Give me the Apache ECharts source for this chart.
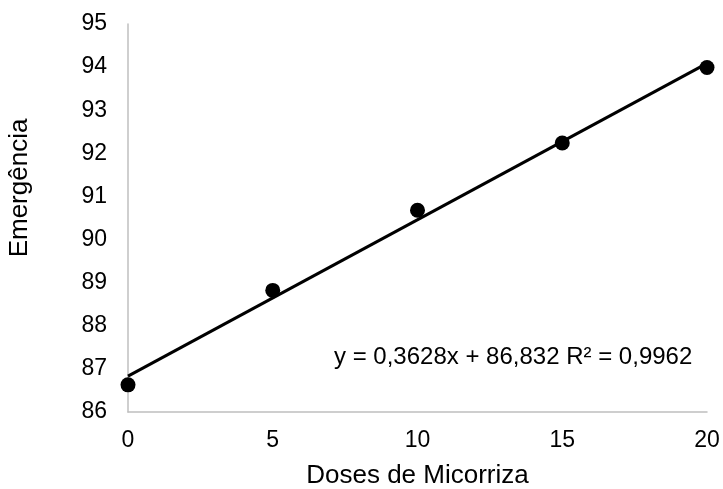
<!DOCTYPE html>
<html>
<head>
<meta charset="utf-8">
<script src="https://cdn.jsdelivr.net/npm/echarts@6/dist/echarts.min.js"></script>
<style>
  html, body { margin: 0; padding: 0; background: #fff; }
  #main { width: 723px; height: 489px; }
</style>
</head>
<body>
<div id="main"></div>
<script>
// doses and emergence readings
const doses = [0, 5, 10, 15, 20];
const emergencia = [86.63, 88.82, 90.68, 92.24, 93.99];
// linear trend y = 0,3628x + 86,832 at the ends of the range
const trendX = [0, 20];
const trendY = [86.832, 94.088];
const equationText = 'y = 0,3628x + 86,832 R² = 0,9962';
const xTitle = 'Doses de Micorriza';
const yTitle = 'Emergência';

const chart = echarts.init(document.getElementById('main'), null, { renderer: 'canvas' });

const font = 'Arial, "Liberation Sans", sans-serif';
const axisColor = '#bfbfbf';

const options = {
  animation: false,
  grid: { left: 128, right: 16, top: 24, bottom: 77, outerBoundsMode: 'none', containLabel: false },
  xAxis: {
    type: 'value',
    min: 0,
    max: 20,
    interval: 5,
    name: xTitle,
    nameLocation: 'middle',
    nameGap: 51,
    nameTextStyle: { color: '#000', fontSize: 26, fontFamily: font },
    axisLine: { show: true, lineStyle: { color: axisColor, width: 1.5 } },
    axisTick: { show: false },
    splitLine: { show: false },
    axisLabel: { color: '#000', fontSize: 23, fontFamily: font, margin: 17 }
  },
  yAxis: {
    type: 'value',
    min: 86,
    max: 95,
    interval: 1,
    axisLine: { show: true, lineStyle: { color: axisColor, width: 1.5 } },
    axisTick: { show: false },
    splitLine: { show: false },
    axisLabel: { color: '#000', fontSize: 23, fontFamily: font, margin: 21 }
  },
  graphic: [
    {
      type: 'text',
      left: 334,
      top: 345,
      style: { text: equationText, fill: '#000', font: '24px ' + font }
    },
    {
      type: 'text',
      x: 20,
      y: 188,
      rotation: Math.PI / 2,
      style: { text: yTitle, fill: '#000', font: '26px ' + font, align: 'center', verticalAlign: 'middle' }
    }
  ],
  series: [
    {
      type: 'line',
      data: trendX.map((x, i) => [x, trendY[i]]),
      showSymbol: false,
      lineStyle: { color: '#000', width: 3 },
      z: 2
    },
    {
      type: 'scatter',
      data: doses.map((x, i) => [x, emergencia[i]]),
      symbolSize: 15,
      itemStyle: { color: '#000', opacity: 1 },
      z: 3
    }
  ]
};

chart.setOption(options);
</script>
</body>
</html>
